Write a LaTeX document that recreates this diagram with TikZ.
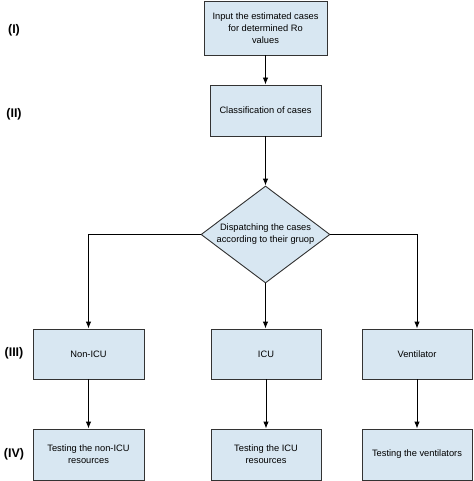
\documentclass[tikz,border=0pt]{standalone}
\usepackage{fontspec}
\setmainfont{Liberation Sans}
\usetikzlibrary{shapes.geometric,arrows.meta,positioning}
\definecolor{boxfill}{HTML}{D8E7F2}
\definecolor{boxline}{HTML}{333333}
\begin{document}
\begin{tikzpicture}[x=1pt,y=-1pt,
  box/.style={draw=boxline,fill=boxfill,line width=0.9pt,rectangle,inner sep=0pt,
    align=center,font=\fontsize{9.3}{12}\selectfont},
  dia/.style={draw=boxline,fill=boxfill,line width=0.9pt,diamond,inner sep=0pt,
    minimum width=129pt,minimum height=97pt},
  dtxt/.style={inner sep=0pt,align=center,font=\fontsize{9.3}{12}\selectfont},
  lvl/.style={font=\fontsize{12.5}{14}\selectfont\bfseries,anchor=center},
  arr/.style={line width=0.9pt,draw=black,-{Latex[length=7pt,width=5.5pt]}}]
\useasboundingbox (0,0) rectangle (473,481);
\node[box,minimum width=123pt,minimum height=54pt] (b1) at (265.5,28) {Input the estimated cases\\for determined Ro\\values};
\node[box,minimum width=111pt,minimum height=51pt] (b2) at (265.5,110.5) {Classification of cases};
\node[dia] (d) at (265.5,234.5) {};
\node[dtxt] (dt) at (265.5,234.5) {Dispatching the cases\\according to their gruop};
\node[box,minimum width=111pt,minimum height=50pt] (n1) at (88.5,354) {Non-ICU};
\node[box,minimum width=110pt,minimum height=50pt] (n2) at (266,354) {ICU};
\node[box,minimum width=110pt,minimum height=50pt] (n3) at (417,354) {Ventilator};
\node[box,minimum width=111pt,minimum height=51pt] (t1) at (88.5,454.5) {Testing the non-ICU\\resources};
\node[box,minimum width=110pt,minimum height=51pt] (t2) at (266,454.5) {Testing the ICU\\resources};
\node[box,minimum width=110pt,minimum height=51pt] (t3) at (417,454.5) {Testing the ventilators};
\node[lvl] (l1) at (14,30) {(I)};
\node[lvl] (l2) at (14,114) {(II)};
\node[lvl] (l3) at (14,353) {(III)};
\node[lvl] (l4) at (14,454) {(IV)};
\draw[arr] (b1.south) -- (b2.north);
\draw[arr] (b2.south) -- (d.north);
\draw[arr] (d.west) -| (n1.north);
\draw[arr] (d.south) -- (d.south |- n2.north);
\draw[arr] (d.east) -| (n3.north);
\draw[arr] (n1.south) -- (t1.north);
\draw[arr] (n2.south) -- (t2.north);
\draw[arr] (n3.south) -- (t3.north);
\end{tikzpicture}
\end{document}
